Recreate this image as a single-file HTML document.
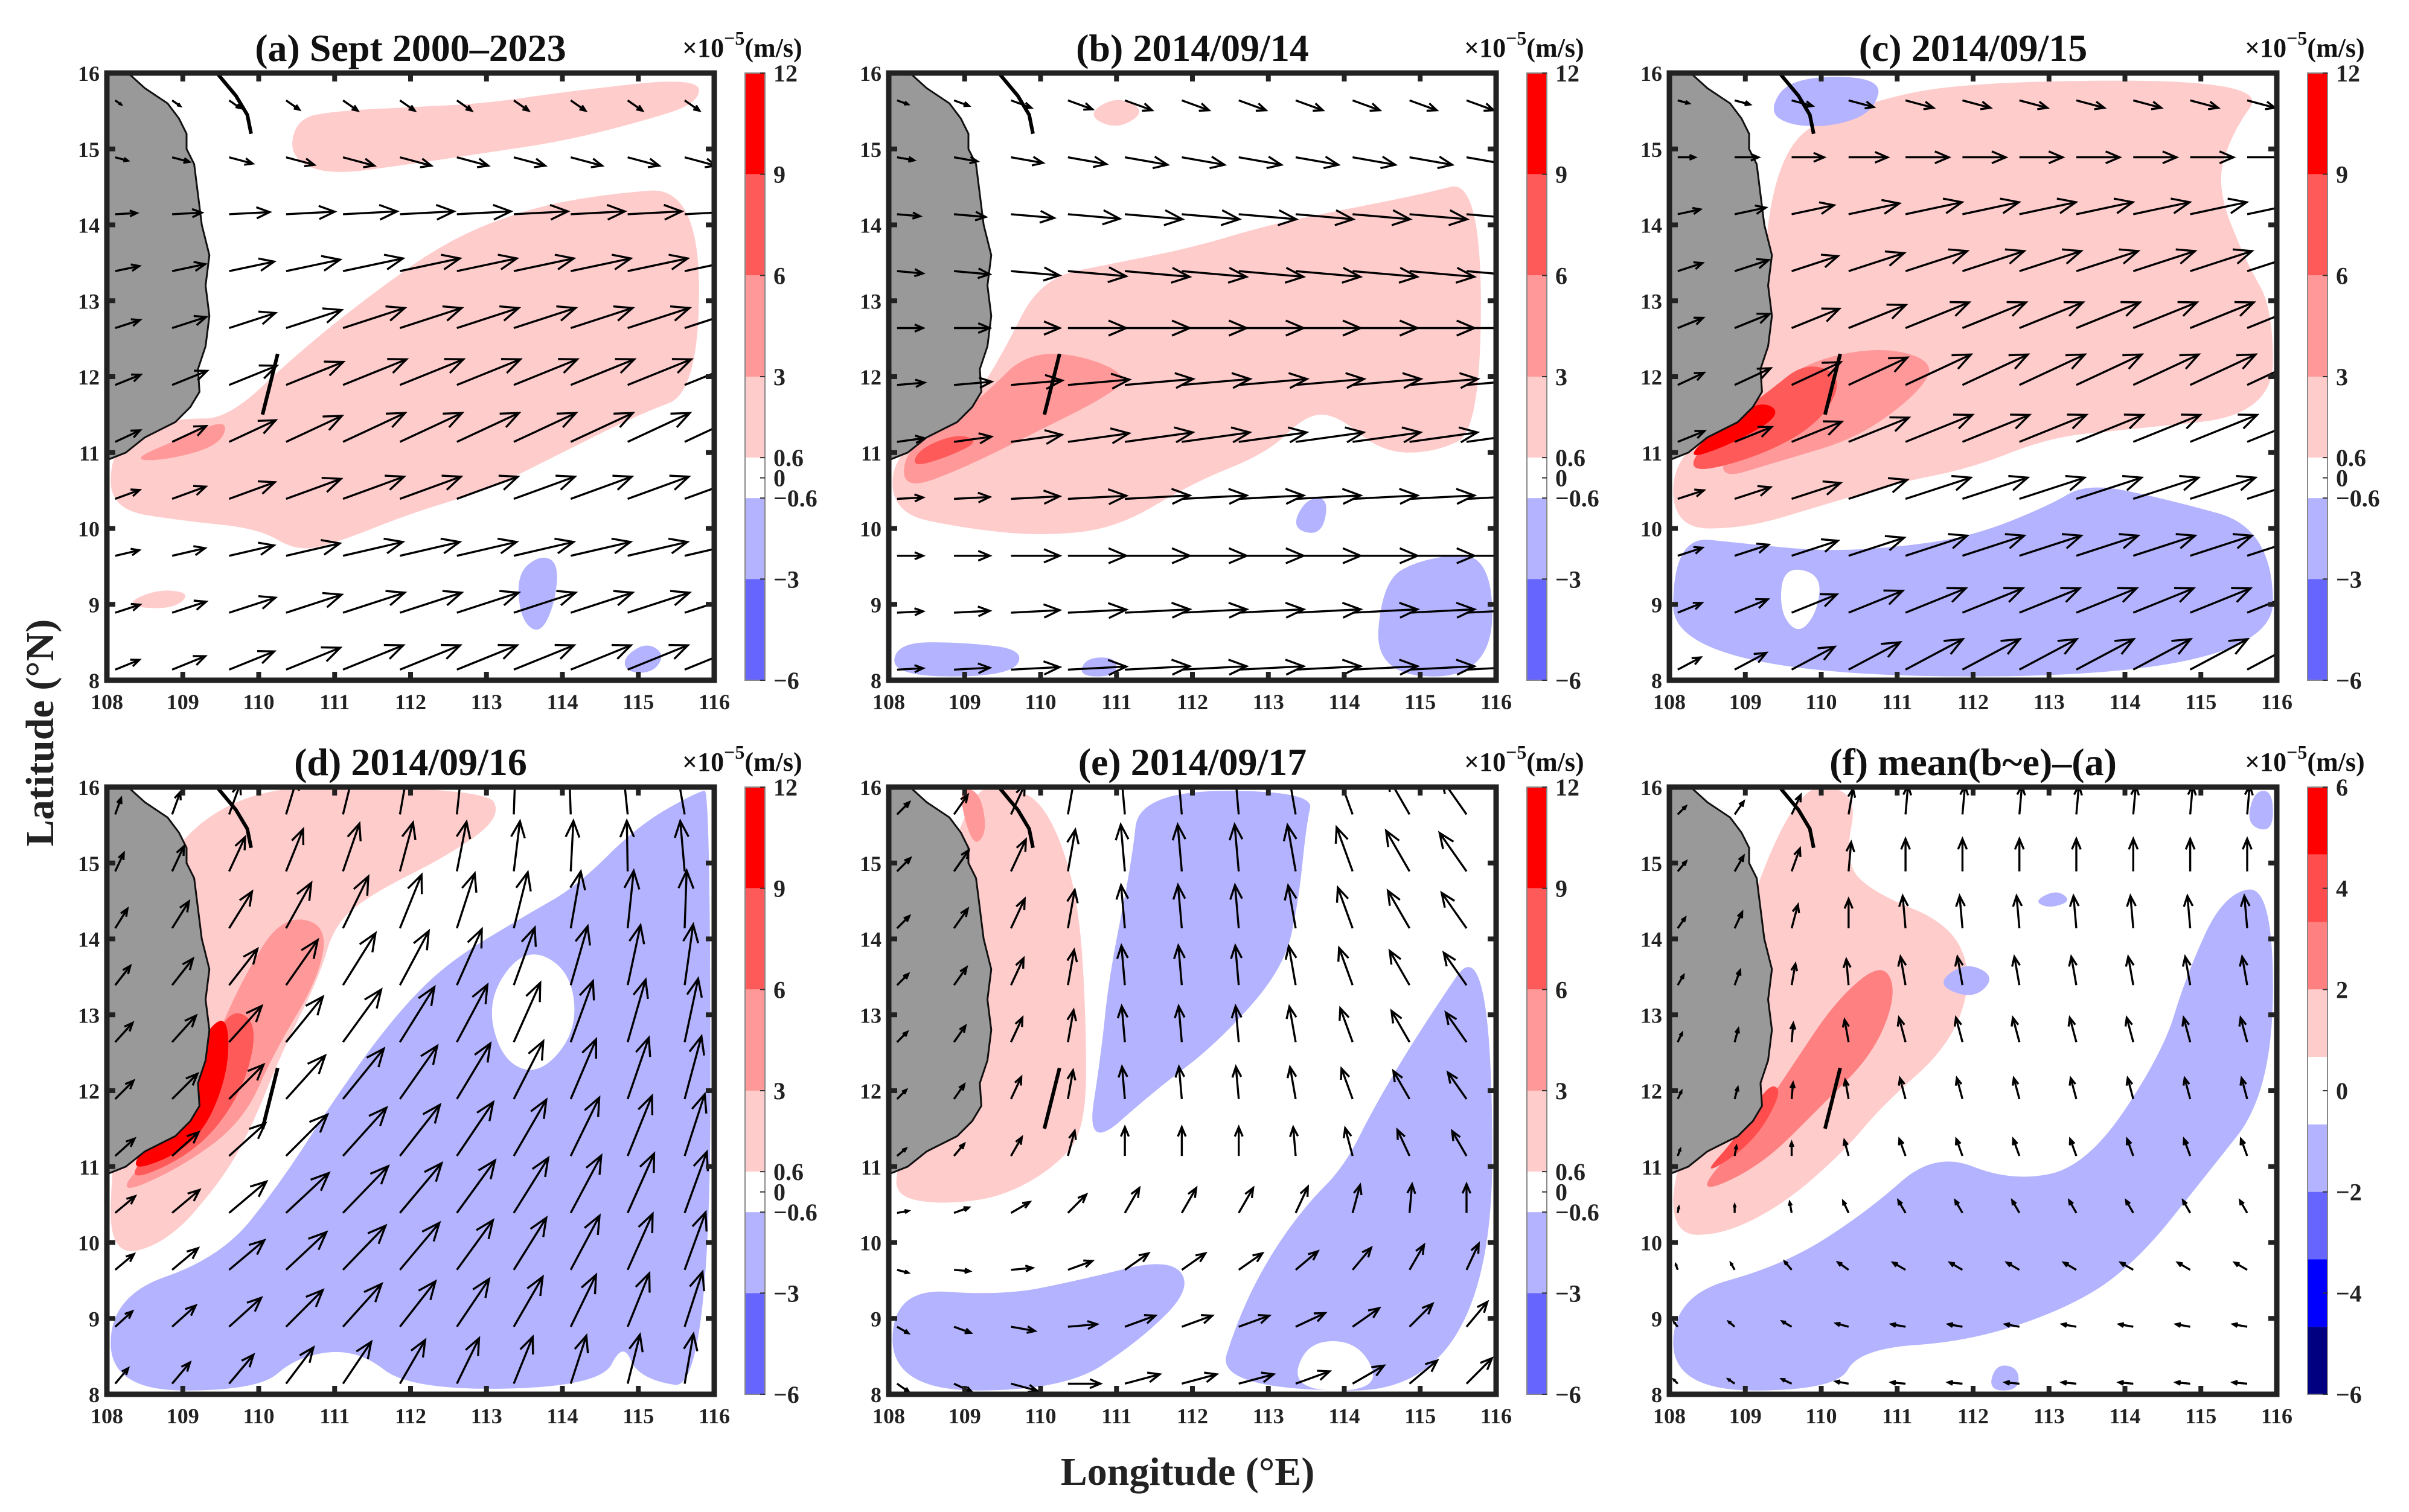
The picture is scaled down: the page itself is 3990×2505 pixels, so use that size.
<!DOCTYPE html>
<html><head><meta charset="utf-8"><style>
html,body{margin:0;padding:0;background:#fff;}
svg{display:block;font-family:"Liberation Serif",serif;}
</style></head><body>
<svg id="fig" xmlns="http://www.w3.org/2000/svg" width="3990" height="2505" viewBox="0 0 3990 2505">
<rect x="0" y="0" width="3990" height="2505" fill="#fff"/>
<text x="0" y="0" transform="translate(88,1214) rotate(-90)" text-anchor="middle" font-size="66" font-weight="bold" fill="#222">Latitude (°N)</text>
<text x="1967" y="2460" text-anchor="middle" font-size="66" font-weight="bold" fill="#222">Longitude (°E)</text>
</svg>
<script>
// ---- data ----
const panelTitles = ["(a) Sept 2000–2023","(b) 2014/09/14","(c) 2014/09/15","(d) 2014/09/16","(e) 2014/09/17","(f) mean(b~e)–(a)"];
const lonTicks = [108,109,110,111,112,113,114,115,116];
const latTicks = [8,9,10,11,12,13,14,15,16];
const cbLevelsMain = [12,9,6,3,0.6,-0.6,-3,-6];
const cbColorsMain = ["#ff0000","#ff5a5a","#ff9999","#ffcccc","#ffffff","#b3b3ff","#6666ff"];
const cbTicksMain = ["12","9","6","3","0.6","0","−0.6","−3","−6"];
const cbTickValsMain = [12,9,6,3,0.6,0,-0.6,-3,-6];
const cbLevelsF = [6,4.667,3.333,2,0.667,-0.667,-2,-3.333,-4.667,-6];
const cbColorsF = ["#ff0000","#ff4d4d","#ff8080","#ffcccc","#ffffff","#b3b3ff","#6666ff","#0000ff","#000080"];
const cbTicksF = ["6","4","2","0","−2","−4","−6"];
const cbTickValsF = [6,4,2,0,-2,-4,-6];
const land = [[108,16],[108.28,16],[108.5,15.8],[108.8,15.6],[108.95,15.4],[109.05,15.2],[109.05,15.0],[109.15,14.8],[109.2,14.4],[109.25,14.0],[109.35,13.6],[109.3,13.2],[109.35,12.8],[109.3,12.4],[109.2,12.1],[109.22,11.8],[109.1,11.6],[108.9,11.4],[108.7,11.3],[108.5,11.2],[108.25,11.0],[108,10.9]];
const curve1 = [[109.45,16],[109.7,15.7],[109.85,15.45],[109.9,15.2]];
const curve2 = [[110.25,12.3],[110.15,11.9],[110.05,11.5]];
const colGain = [0.4,0.55,0.75,0.9,1,1,1,1,1,1,1];
const arrowLons = [108.11,108.86,109.61,110.36,111.11,111.86,112.61,113.36,114.11,114.86,115.61];
const arrowLats = [15.64,14.89,14.14,13.39,12.64,11.89,11.14,10.39,9.64,8.89,8.14];
const angA = [-35,-15,3,12,18,22,25,20,13,18,22];
const spdA = [0.25,0.45,0.75,0.85,0.9,0.95,0.95,0.9,0.85,0.9,0.9];
const angB = [-20,-10,-5,-5,0,5,8,3,0,3,3];
const spdB = [0.4,0.6,0.8,0.9,0.9,0.95,0.95,0.9,0.9,0.9,0.9];
const angC = [-15,0,12,18,22,25,22,18,18,22,28];
const spdC = [0.4,0.6,0.8,0.9,0.95,1,1,0.95,0.9,0.9,0.9];
const angD = [70,65,58,52,48,45,42,40,40,42,50];
const spdD = [0.6,0.7,0.8,0.85,0.9,0.9,0.9,0.9,0.85,0.8,0.7];
const angE = [95,95,95,95,95,95,90,60,35,20,15];
const spdE = [0.6,0.65,0.6,0.55,0.5,0.45,0.4,0.4,0.4,0.45,0.5];
const angF = [85,90,95,100,105,105,110,120,150,170,175];
const spdF = [0.4,0.45,0.45,0.4,0.35,0.3,0.25,0.2,0.2,0.2,0.2];
const colAngZero = [0,0,0,0,0,0,0,0,0,0,0];
const colAngD = [0,0,0,3,6,10,14,18,22,26,30];
const colAngE = [-50,-40,-30,-15,0,0,0,5,15,25,30];
const colAngF = [-40,-30,-20,-5,0,0,0,0,0,0,0];

const P="#ffcccc",P2="#ff9999",P3="#ff5a5a",R="#ff0000",B="#b3b3ff",B2="#6666ff";
const F2="#ff8080",F3="#ff4d4d";
const shapesA = [
 {c:P,p:[[110.4,14.9],[110.5,15.4],[111,15.5],[112,15.55],[113,15.6],[114,15.75],[115.8,15.95],[115.8,15.6],[115,15.35],[114,15.1],[113,14.95],[112,14.8],[110.9,14.65]]},
 {c:P,p:[[109.6,11.45],[110.5,12.3],[111.5,13.1],[112.5,13.8],[113.5,14.2],[114.5,14.4],[115.8,14.5],[115.8,11.8],[115,11.5],[114,11.0],[113,10.5],[112,10.2],[111,9.8],[110.5,9.7],[110,10.0],[109,10.1],[108.05,10.25],[108.05,11.0],[108.5,11.35],[109,11.45]]},
 {c:P2,p:[[108.3,10.9],[109.0,11.2],[109.6,11.45],[109.5,11.1],[108.8,10.9]]},
 {c:P,p:[[108.3,9.05],[108.7,9.2],[109.1,9.15],[108.9,8.95],[108.4,8.95]]},
 {c:B,p:[[113.4,9.4],[113.7,9.65],[113.95,9.55],[113.9,9.0],[113.7,8.6],[113.45,8.8]]},
 {c:B,p:[[114.8,8.3],[115.1,8.5],[115.35,8.35],[115.2,8.1],[114.85,8.1]]}
];
const shapesB = [
 {c:P,p:[[110.6,15.45],[111,15.7],[111.4,15.5],[111,15.25]]},
 {c:P,p:[[109.5,12.3],[110,13.3],[111,13.5],[112,13.7],[113,14.0],[114,14.2],[115,14.4],[115.8,14.6],[115.8,11.3],[115.2,11.0],[114.5,11.0],[113.9,11.5],[113.5,11.5],[113,11.0],[112,10.6],[111,10.0],[110,9.9],[109,10.0],[108.05,10.2],[108.05,11.0],[109,11.5]]},
 {c:P2,p:[[108.2,10.5],[109,10.8],[110,11.3],[110.8,11.7],[111.2,12.0],[110.5,12.3],[109.8,12.3],[109.3,11.8],[108.7,11.3],[108.2,11.0]]},
 {c:P3,p:[[108.3,10.8],[108.8,10.95],[109.2,11.15],[108.9,11.25],[108.4,11.05]]},
 {c:B,p:[[113.3,10.0],[113.5,10.4],[113.8,10.4],[113.7,9.9]]},
 {c:B,p:[[114.4,8.05],[114.5,9.3],[115,9.6],[115.95,9.7],[115.95,8.05]]},
 {c:B,p:[[108.05,8.05],[108.1,8.5],[109,8.5],[109.8,8.4],[109.6,8.05]]},
 {c:B,p:[[110.5,8.05],[110.6,8.3],[111.0,8.3],[111,8.05]]}
];
const shapesC = [
 {c:P,p:[[109.3,15.0],[110.5,15.6],[112,15.9],[115.9,15.9],[115.4,15.2],[115.2,14.5],[115.6,13.5],[115.95,12.9],[115.95,11.5],[114,11.3],[113,11.2],[112,10.8],[111,10.6],[110,10.3],[109,10.0],[108.05,10.0],[108.05,11],[109.2,11.6]]},
 {c:B,p:[[109.3,15.5],[109.6,15.95],[110.8,15.95],[110.7,15.5],[110.2,15.3],[109.6,15.3]]},
 {c:P2,p:[[108.5,10.6],[109.5,10.9],[110.5,11.2],[111.3,11.8],[111.5,12.2],[110.8,12.4],[109.8,12.2],[109.2,11.7]]},
 {c:P3,p:[[108.2,10.7],[109.2,10.95],[110.0,11.4],[110.3,12.0],[109.8,12.2],[109.3,11.8],[108.5,11.2]]},
 {c:R,p:[[108.2,10.9],[108.8,11.1],[109.5,11.5],[109.2,11.7],[108.6,11.3]]},
 {c:B,p:[[108.05,9.9],[109,9.8],[110,9.7],[111,9.75],[112,9.9],[113,10.3],[113.5,10.6],[114.5,10.4],[115.95,10.0],[115.95,8.05],[108.05,8.05]]}
];
const holesC = [[[109.5,9.5],[110,9.4],[109.95,8.9],[109.7,8.6],[109.45,8.9]]];
const shapesD = [
 {c:P,p:[[108.6,16],[113,16],[113.2,15.6],[112.5,15.1],[111.5,14.6],[111,14.2],[110.8,13.5],[110.3,12.5],[109.9,11.5],[109.5,10.8],[108.8,10.0],[108.05,9.8],[108.05,11]]},
 {c:P2,p:[[108.1,10.6],[109,11.0],[109.8,11.6],[110.2,12.5],[110.8,13.5],[110.9,14.2],[110.3,14.3],[109.8,13.5],[109.4,12.6],[108.6,11.2]]},
 {c:P3,p:[[108.2,10.75],[109.2,11.2],[109.8,12.0],[110.0,12.9],[109.6,13.1],[109.3,12.3],[108.7,11.4]]},
 {c:R,p:[[108.3,10.9],[109.2,11.3],[109.6,12.2],[109.6,13.0],[109.3,12.8],[109,12],[108.5,11.3]]},
 {c:B,p:[[108.05,9.3],[109.5,9.8],[110.3,10.8],[111,11.9],[111.8,13],[112.5,13.7],[113.5,14.3],[114.2,14.7],[115,15.5],[115.8,15.95],[115.95,15.95],[115.95,8.05],[115,8.2],[114.8,8.7],[114.5,8.1],[112,8.05],[111.3,8.6],[110.5,8.5],[110,8.05],[108.05,8.05]]}
];
const holesD = [[[113.0,13.2],[113.5,13.9],[114.1,13.6],[114.2,12.8],[113.7,12.2],[113.2,12.4]]];
const shapesE = [
 {c:P,p:[[108.9,16],[109.8,16],[110.2,15.5],[110.5,14.5],[110.6,13],[110.6,11.5],[110.2,11.0],[109.5,10.6],[108.7,10.5],[108.1,10.6],[108.1,11]]},
 {c:P2,p:[[108.9,16],[109.2,15.95],[109.3,15.4],[109.1,15.2]]},
 {c:B,p:[[110.6,11.2],[111.5,12.0],[112.3,12.6],[113.2,13.6],[113.4,14.5],[113.5,15.5],[113.6,15.95],[111.3,15.95],[111.2,15],[110.9,13.5],[110.8,12.5]]},
 {c:B,p:[[112.3,8.05],[112.6,9.0],[113.0,9.8],[113.5,10.5],[114,11.0],[114.4,11.8],[115,12.8],[115.95,14.2],[115.95,8.05]]},
 {c:B,p:[[108.05,9.4],[109.5,9.3],[110.5,9.5],[111.7,9.8],[112.0,9.4],[111.3,8.7],[110.3,8.05],[108.05,8.05]]}
];
const holesE = [[[113.3,8.05],[113.5,8.7],[114.2,8.7],[114.5,8.05]]];
const shapesF = [
 {c:P,p:[[109.5,16],[110.5,16],[110.3,15],[110.7,14.6],[111.7,14.2],[112,13.5],[111.7,12.6],[110.8,11.8],[110.3,11.2],[109.5,10.5],[108.7,10.1],[108.05,10.1],[108.05,11]]},
 {c:F2,p:[[108.3,10.6],[109.2,11.0],[110,11.8],[110.7,12.5],[111.0,13.3],[110.8,13.7],[110.2,13.2],[109.6,12.3],[109,11.4]]},
 {c:F3,p:[[108.4,10.85],[109.1,11.3],[109.5,12.0],[109.3,12.1],[108.9,11.4]]},
 {c:B,p:[[108.05,9.3],[109.5,9.7],[110.6,10.4],[111.5,11.2],[112.5,10.8],[113.5,11.0],[114.5,12.5],[114.8,13.5],[115.3,14.6],[115.95,14.7],[115.95,12.0],[115,10.8],[114.2,9.8],[113.4,9.2],[112,8.7],[110.5,8.6],[110.2,8.05],[108.05,8.05]]},
 {c:B,p:[[111.5,13.4],[111.9,13.7],[112.3,13.5],[112.0,13.2]]},
 {c:B,p:[[112.8,14.5],[113.1,14.65],[113.3,14.5],[113.0,14.4]]},
 {c:B,p:[[115.6,15.5],[115.7,15.95],[115.95,15.95],[115.95,15.4]]},
 {c:B,p:[[112.2,8.05],[112.3,8.4],[112.6,8.35],[112.6,8.05]]}
];
const holesF = [];

const panels = [
 {id:"a",col:0,row:0,shapes:shapesA,holes:[],ang:angA,spd:spdA,colAng:colAngZero,cb:"main"},
 {id:"b",col:1,row:0,shapes:shapesB,holes:[],ang:angB,spd:spdB,colAng:colAngZero,cb:"main"},
 {id:"c",col:2,row:0,shapes:shapesC,holes:holesC,ang:angC,spd:spdC,colAng:colAngZero,cb:"main"},
 {id:"d",col:0,row:1,shapes:shapesD,holes:holesD,ang:angD,spd:spdD,colAng:colAngD,cb:"main"},
 {id:"e",col:1,row:1,shapes:shapesE,holes:holesE,ang:angE,spd:spdE,colAng:colAngE,cb:"main"},
 {id:"f",col:2,row:1,shapes:shapesF,holes:holesF,ang:angF,spd:spdF,colAng:colAngF,cb:"f"}
];

// ---- drawing ----
const NS="http://www.w3.org/2000/svg";
const svg=document.getElementById("fig");
const panelX=[173,1468,2761], panelY=[117,1300];
const W=1006, H=1006;
function mk(tag,attrs,parent){const e=document.createElementNS(NS,tag);for(const k in attrs)e.setAttribute(k,attrs[k]);(parent||svg).appendChild(e);return e;}
function smoothPath(pts,sx,sy){
  const q=pts.map(p=>[sx(p[0]),sy(p[1])]);const n=q.length;
  const mid=(a,b)=>[(a[0]+b[0])/2,(a[1]+b[1])/2];
  let m=mid(q[n-1],q[0]);let d="M"+m[0].toFixed(1)+","+m[1].toFixed(1);
  for(let i=0;i<n;i++){const c=q[i],nx=mid(q[i],q[(i+1)%n]);d+=" Q"+c[0].toFixed(1)+","+c[1].toFixed(1)+" "+nx[0].toFixed(1)+","+nx[1].toFixed(1);}
  return d+"Z";
}
panels.forEach((pn,pi)=>{
  const X0=panelX[pn.col]+4, Y0=panelY[pn.row]+4;
  const sx=lon=>X0+(lon-108)/8*W;
  const sy=lat=>Y0+(16-lat)/8*H;
  const g=mk("g",{});
  
  
  const clip=mk("clipPath",{id:"clip"+pn.id},g);
  mk("rect",{x:X0,y:Y0,width:W,height:H},clip);
  const pg=mk("g",{"clip-path":"url(#clip"+pn.id+")"},g);
  pn.shapes.forEach((s,si)=>{
    const e=mk("path",{d:smoothPath(s.p,sx,sy),fill:s.c},pg);
    
    
  });
  pn.holes.forEach(h=>{
    const e=mk("path",{d:smoothPath(h,sx,sy),fill:"#fff"},pg);
    
    
  });
  let ld="M"+land.map(p=>sx(p[0]).toFixed(1)+","+sy(p[1]).toFixed(1)).join(" L")+" L"+sx(108)+","+sy(16)+"Z";
  const le=mk("path",{d:ld,fill:"#999999",stroke:"#111","stroke-width":3},pg);
  
  
  [curve1,curve2].forEach(cv=>{
    const e=mk("polyline",{points:cv.map(p=>sx(p[0]).toFixed(1)+","+sy(p[1]).toFixed(1)).join(" "),fill:"none",stroke:"#000","stroke-width":6},pg);
    
    
  });
  arrowLats.forEach((lat,i)=>{
    arrowLons.forEach((lon,j)=>{
      const a=(pn.ang[i]+pn.colAng[j])*Math.PI/180;
      const len=pn.spd[i]*colGain[j]*W/8*0.95;
      const x1=sx(lon),y1=sy(lat),x2=x1+len*Math.cos(a),y2=y1-len*Math.sin(a);
      const hl=Math.min(32,len*0.35),ha=0.4;
      const hx1=x2-hl*Math.cos(a-ha),hy1=y2+hl*Math.sin(a-ha);
      const hx2=x2-hl*Math.cos(a+ha),hy2=y2+hl*Math.sin(a+ha);
      const e=mk("path",{d:`M${x1.toFixed(1)},${y1.toFixed(1)}L${x2.toFixed(1)},${y2.toFixed(1)}M${hx1.toFixed(1)},${hy1.toFixed(1)}L${x2.toFixed(1)},${y2.toFixed(1)}L${hx2.toFixed(1)},${hy2.toFixed(1)}`,fill:"none",stroke:"#000","stroke-width":3.4},pg);
      
      
    });
  });
  lonTicks.forEach(t=>{
    const x=sx(t);
    mk("line",{x1:x,y1:Y0,x2:x,y2:Y0+14,stroke:"#222","stroke-width":8},g);
    mk("line",{x1:x,y1:Y0+H,x2:x,y2:Y0+H-14,stroke:"#222","stroke-width":8},g);
    const tl=mk("text",{x:x,y:Y0+H+48,"text-anchor":"middle","font-size":36,"font-weight":"bold",fill:"#222"},g);
    tl.textContent=t;
    
    
  });
  latTicks.forEach(t=>{
    const y=sy(t);
    mk("line",{x1:X0,y1:y,x2:X0+14,y2:y,stroke:"#222","stroke-width":8},g);
    mk("line",{x1:X0+W,y1:y,x2:X0+W-14,y2:y,stroke:"#222","stroke-width":8},g);
    const tl=mk("text",{x:X0-12,y:y+13,"text-anchor":"end","font-size":36,"font-weight":"bold",fill:"#222"},g);
    tl.textContent=t;
    
    
  });
  const fr=mk("rect",{x:X0,y:Y0,width:W,height:H,fill:"none",stroke:"#222","stroke-width":9},g);
  
  
  const tt=mk("text",{x:X0+W/2,y:Y0-20,"text-anchor":"middle","font-size":64,"font-weight":"bold",fill:"#111"},g);
  tt.textContent=panelTitles[pi];
  
  
  const cx=panelX[pn.col]+1061, cw=33, cy=Y0, ch=H;
  const levels = pn.cb==="main"?cbLevelsMain:cbLevelsF;
  const cols = pn.cb==="main"?cbColorsMain:cbColorsF;
  const tvals = pn.cb==="main"?cbTickValsMain:cbTickValsF;
  const tlabs = pn.cb==="main"?cbTicksMain:cbTicksF;
  const vmax=levels[0], vmin=levels[levels.length-1];
  const cyv=v=>cy+(vmax-v)/(vmax-vmin)*ch;
  const cbg=mk("g",{},g);
  
  
  for(let k=0;k<cols.length;k++){
    const e=mk("rect",{x:cx,y:cyv(levels[k]),width:cw,height:cyv(levels[k+1])-cyv(levels[k]),fill:cols[k]},cbg);
    
    
  }
  mk("rect",{x:cx,y:cy,width:cw,height:ch,fill:"none",stroke:"#888","stroke-width":2},cbg);
  tvals.forEach((v,k)=>{
    const y=cyv(v);
    mk("line",{x1:cx+cw-8,y1:y,x2:cx+cw,y2:y,stroke:"#333","stroke-width":2},cbg);
    const e=mk("text",{x:cx+cw+14,y:y+14,"font-size":40,"font-weight":"bold",fill:"#222"},cbg);
    e.textContent=tlabs[k];
    
    
  });
  const un=mk("text",{x:panelX[pn.col]+957,y:panelY[pn.row]-23,"font-size":44,"font-weight":"bold",fill:"#111"},g);
  
  
  const t1=mk("tspan",{},un);t1.textContent="×10";
  const t2=mk("tspan",{dy:-20,"font-size":32},un);t2.textContent="−5";
  const t3=mk("tspan",{dy:20},un);t3.textContent="(m/s)";
});
</script>
</body></html>
